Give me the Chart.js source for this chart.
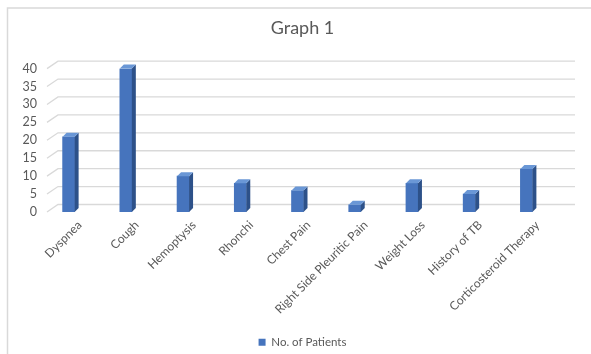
<!DOCTYPE html>
<html>
<head>
<meta charset="utf-8">
<script src="https://cdn.jsdelivr.net/npm/chart.js@4.4.1/dist/chart.umd.min.js"></script>
<style>
  html, body { margin: 0; padding: 0; background: #ffffff; }
  #c { display: block; }
</style>
</head>
<body>
<canvas id="c" width="591" height="354"></canvas>
<script>
// Symptoms and history items on the category axis
const categories = [
  'Dyspnea', 'Cough', 'Hemoptysis', 'Rhonchi', 'Chest Pain',
  'Right Side Pleuritic Pain', 'Weight Loss', 'History of TB', 'Corticosteroid Therapy'
];
// Number of patients per item
const patients = [21, 40, 10, 8, 6, 2, 8, 5, 12];
// Value axis ticks
const yTicks = [0, 5, 10, 15, 20, 25, 30, 35, 40];

const TEXT = '#595959';
const GRID = '#d9d9d9';
const FRONT = '#4674bd';
const SIDE = '#2d5189';
const TOP = '#6a97d6';
const DEPTH = 4;        // bar extrusion (px)
const WALL = 7.5;       // back-wall offset of the gridlines (px)
const BOTTOM_PAD = -4;  // pulls the legend toward the lower edge

// Draws the chart frame, the slanted 3-D gridlines and the bar extrusions
const pseudo3d = {
  id: 'pseudo3d',
  beforeDraw(chart) {
    const ctx = chart.ctx;
    ctx.save();
    ctx.fillStyle = '#ffffff';
    ctx.fillRect(0, 0, chart.width, chart.height);
    ctx.strokeStyle = '#d9d9d9';
    ctx.lineWidth = 1.5;
    ctx.beginPath();
    ctx.moveTo(7.5, chart.height);
    ctx.lineTo(7.5, 8);
    ctx.lineTo(chart.width, 8);
    ctx.stroke();
    ctx.restore();
  },
  beforeDatasetsDraw(chart) {
    const ctx = chart.ctx;
    const y = chart.scales.y;
    const left = chart.chartArea.left + 7;
    ctx.save();
    ctx.strokeStyle = GRID;
    ctx.lineWidth = 1.3;
    yTicks.forEach(v => {
      const py = y.getPixelForValue(v);
      ctx.beginPath();
      ctx.moveTo(left, py);
      ctx.lineTo(left + 11, py - WALL);
      ctx.lineTo(chart.chartArea.right + 20, py - WALL);
      ctx.stroke();
    });
    ctx.restore();
  },
  afterDatasetsDraw(chart) {
    const ctx = chart.ctx;
    const meta = chart.getDatasetMeta(0);
    ctx.save();
    meta.data.forEach(bar => {
      const p = bar.getProps(['x', 'y', 'base', 'width'], true);
      const l = p.x - p.width / 2, r = p.x + p.width / 2;
      // side face
      ctx.fillStyle = SIDE;
      ctx.beginPath();
      ctx.moveTo(r, p.y);
      ctx.lineTo(r + DEPTH, p.y - DEPTH);
      ctx.lineTo(r + DEPTH, p.base - DEPTH);
      ctx.lineTo(r, p.base);
      ctx.closePath();
      ctx.fill();
      // top face
      ctx.fillStyle = TOP;
      ctx.beginPath();
      ctx.moveTo(l, p.y);
      ctx.lineTo(l + DEPTH, p.y - DEPTH);
      ctx.lineTo(r + DEPTH, p.y - DEPTH);
      ctx.lineTo(r, p.y);
      ctx.closePath();
      ctx.fill();
    });
    ctx.restore();
  }
};

new Chart(document.getElementById('c'), {
  type: 'bar',
  data: {
    labels: categories,
    datasets: [{
      label: 'No. of Patients',
      data: patients,
      backgroundColor: FRONT,
      borderWidth: 0,
      barThickness: 12
    }]
  },
  options: {
    responsive: false,
    animation: false,
    layout: { padding: { left: 14, right: 0, top: 0, bottom: BOTTOM_PAD } },
    plugins: {
      title: {
        display: true,
        text: 'Graph 1',
        color: TEXT,
        font: { family: 'Lato', size: 18, weight: 'normal' },
        padding: { top: 17, bottom: 30 }
      },
      legend: {
        display: true,
        position: 'bottom',
        labels: {
          color: TEXT,
          font: { family: 'Lato', size: 11.5 },
          boxWidth: 7,
          boxHeight: 7,
          padding: 2
        }
      },
      tooltip: { enabled: false }
    },
    scales: {
      x: {
        grid: { display: false },
        border: { display: false },
        ticks: {
          color: TEXT,
          font: { family: 'Lato', size: 12 },
          minRotation: 45,
          maxRotation: 45,
          labelOffset: 11,
          padding: -2
        },
        afterFit(scale) {
          const legendH = scale.chart.legend ? scale.chart.legend.height : 0;
          scale.height = scale.chart.height - 212 - legendH - BOTTOM_PAD;
        }
      },
      y: {
        min: 0,
        max: 40,
        grid: { display: false },
        border: { display: false },
        ticks: {
          stepSize: 5,
          autoSkip: false,
          color: TEXT,
          font: { family: 'Lato', size: 12.5 },
          padding: -5
        },
        afterFit(scale) { scale.width = 26; }
      },
      yRight: {
        position: 'right',
        display: true,
        grid: { display: false },
        border: { display: false },
        ticks: { display: false },
        afterFit(scale) { scale.width = 36; }
      }
    }
  },
  plugins: [pseudo3d]
});
</script>
</body>
</html>
